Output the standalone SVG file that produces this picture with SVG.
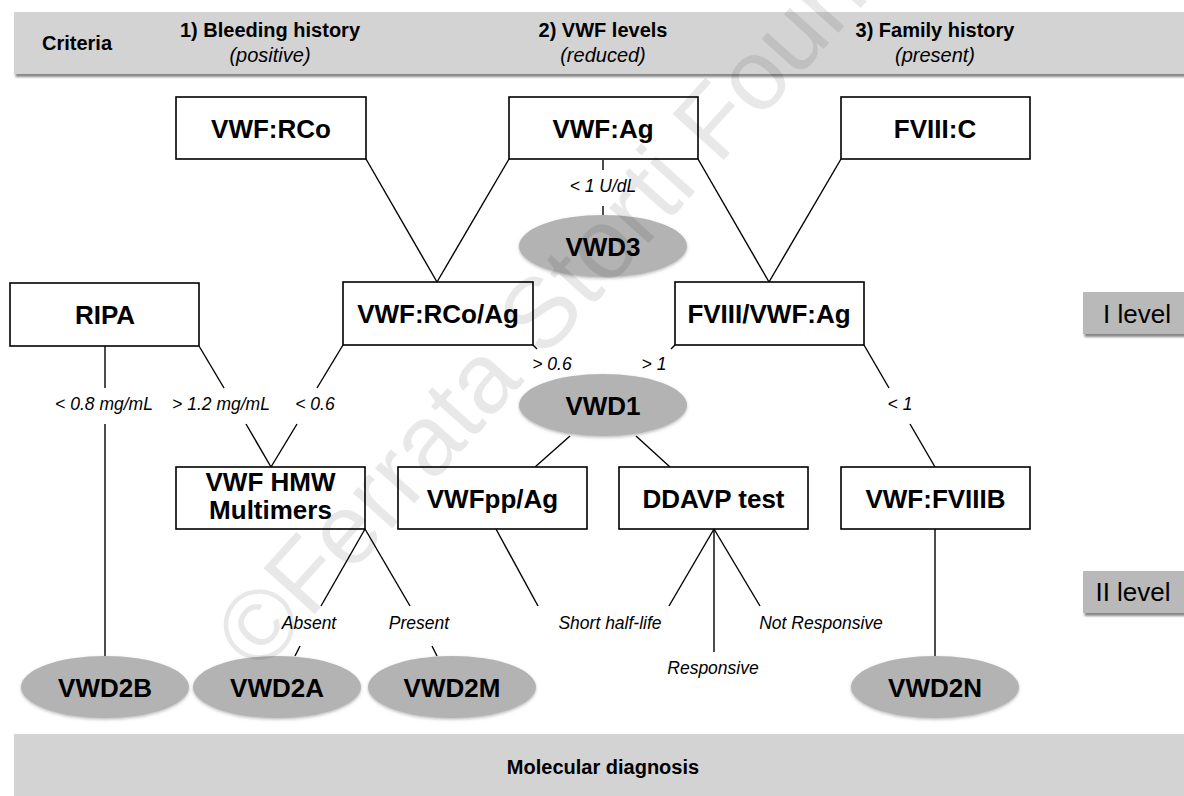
<svg xmlns="http://www.w3.org/2000/svg" width="1184" height="796" viewBox="0 0 1184 796">
<defs>
<filter id="sh" x="-10%" y="-20%" width="130%" height="160%">
<feDropShadow dx="1.5" dy="3" stdDeviation="1.2" flood-color="#555" flood-opacity="0.7"/>
</filter>
<filter id="esh" x="-10%" y="-20%" width="130%" height="160%">
<feDropShadow dx="0" dy="1.5" stdDeviation="1.5" flood-color="#777" flood-opacity="0.5"/>
</filter>
</defs>
<style>
.box{fill:#fff;stroke:#000;stroke-width:1.6}
.ell{fill:#b3b3b3;filter:url(#esh)}
.bt{font-family:"Liberation Sans",Arial,sans-serif;font-weight:bold;font-size:26px;text-anchor:middle;fill:#000}
.lb{font-family:"Liberation Sans",Arial,sans-serif;font-style:italic;font-size:17.5px;text-anchor:middle;fill:#000}
.hd{font-family:"Liberation Sans",Arial,sans-serif;font-weight:bold;font-size:20px;text-anchor:middle;fill:#000}
.hi{font-family:"Liberation Sans",Arial,sans-serif;font-style:italic;font-size:20px;text-anchor:middle;fill:#000}
.lv{font-family:"Liberation Sans",Arial,sans-serif;font-size:26px;text-anchor:middle;fill:#000}
.cn line{stroke:#000;stroke-width:1.4}
</style>
<rect width="1184" height="796" fill="#fff"/>

<g id="criteria-bar">
<rect x="14" y="12" width="1180" height="62" fill="#d3d3d3" filter="url(#sh)"/>
<text class="hd" x="77" y="50">Criteria</text>
<text class="hd" x="270" y="37">1) Bleeding history</text>
<text class="hi" x="270" y="62">(positive)</text>
<text class="hd" x="603" y="37">2) VWF levels</text>
<text class="hi" x="603" y="62">(reduced)</text>
<text class="hd" x="935" y="37">3) Family history</text>
<text class="hi" x="935" y="62">(present)</text>
</g>

<g class="cn" id="connectors">
<line x1="366" y1="159" x2="437" y2="282"/>
<line x1="509" y1="159" x2="437" y2="282"/>
<line x1="698" y1="159" x2="769" y2="282"/>
<line x1="841" y1="159" x2="769" y2="282"/>
<line x1="603" y1="160" x2="603" y2="170"/>
<line x1="603" y1="206" x2="603" y2="215"/>
<line x1="105" y1="346" x2="105" y2="388"/>
<line x1="105" y1="424" x2="105" y2="657"/>
<line x1="199" y1="346" x2="224" y2="388"/>
<line x1="246" y1="424" x2="271" y2="467"/>
<line x1="343" y1="345" x2="317" y2="388"/>
<line x1="297" y1="424" x2="271" y2="467"/>
<line x1="533" y1="345" x2="537" y2="349"/>
<line x1="675" y1="345" x2="671" y2="349"/>
<line x1="864" y1="345" x2="889" y2="388"/>
<line x1="910" y1="424" x2="935" y2="467"/>
<line x1="570" y1="436" x2="535" y2="467"/>
<line x1="636" y1="436" x2="670" y2="467"/>
<line x1="365" y1="529" x2="321" y2="606"/>
<line x1="365" y1="529" x2="410" y2="606"/>
<line x1="300" y1="646" x2="295" y2="656"/>
<line x1="432" y1="646" x2="437" y2="656"/>
<line x1="496" y1="529" x2="538" y2="606"/>
<line x1="714" y1="529" x2="669" y2="606"/>
<line x1="714" y1="529" x2="760" y2="606"/>
<line x1="714" y1="529" x2="714" y2="652"/>
<line x1="935" y1="529" x2="935" y2="656"/>
</g>

<g id="labels">
<text class="lb" x="603" y="192">&lt; 1 U/dL</text>
<text class="lb" x="104" y="410">&lt; 0.8 mg/mL</text>
<text class="lb" x="221" y="410">&gt; 1.2 mg/mL</text>
<text class="lb" x="315" y="410">&lt; 0.6</text>
<text class="lb" x="552" y="370">&gt; 0.6</text>
<text class="lb" x="654" y="370">&gt; 1</text>
<text class="lb" x="900" y="410">&lt; 1</text>
<text class="lb" x="309" y="629">Absent</text>
<text class="lb" x="419" y="629">Present</text>
<text class="lb" x="610" y="629">Short half-life</text>
<text class="lb" x="821" y="629">Not Responsive</text>
<text class="lb" x="713" y="674">Responsive</text>
</g>

<g id="n-vwfrco"><rect class="box" x="176" y="97" width="190" height="62"/><text class="bt" x="271" y="138">VWF:RCo</text></g>
<g id="n-vwfag"><rect class="box" x="509" y="97" width="189" height="62"/><text class="bt" x="603" y="138">VWF:Ag</text></g>
<g id="n-fviiic"><rect class="box" x="841" y="97" width="189" height="62"/><text class="bt" x="935" y="138">FVIII:C</text></g>
<g id="n-vwd3"><ellipse class="ell" cx="603" cy="246" rx="84" ry="31"/><text class="bt" x="603" y="256">VWD3</text></g>
<g id="n-ripa"><rect class="box" x="10" y="283" width="189" height="63"/><text class="bt" x="105" y="324">RIPA</text></g>
<g id="n-rcoag"><rect class="box" x="343" y="282" width="190" height="63"/><text class="bt" x="438" y="323">VWF:RCo/Ag</text></g>
<g id="n-fviiiag"><rect class="box" x="675" y="282" width="189" height="63"/><text class="bt" x="769" y="323">FVIII/VWF:Ag</text></g>
<g id="n-vwd1"><ellipse class="ell" cx="603" cy="405" rx="84" ry="31"/><text class="bt" x="603" y="415">VWD1</text></g>
<g id="n-hmw"><rect class="box" x="176" y="467" width="189" height="62"/><text class="bt" x="270.500" y="491" font-size="25">VWF HMW</text><text class="bt" x="270.500" y="519" font-size="25">Multimers</text></g>
<g id="n-vwfpp"><rect class="box" x="398" y="467" width="189" height="62"/><text class="bt" x="492.500" y="508">VWFpp/Ag</text></g>
<g id="n-ddavp"><rect class="box" x="619" y="467" width="189" height="62"/><text class="bt" x="713.500" y="508">DDAVP test</text></g>
<g id="n-fviiib"><rect class="box" x="841" y="467" width="189" height="62"/><text class="bt" x="935.500" y="508">VWF:FVIIIB</text></g>
<g id="n-vwd2b"><ellipse class="ell" cx="105" cy="687" rx="84" ry="31"/><text class="bt" x="105" y="697">VWD2B</text></g>
<g id="n-vwd2a"><ellipse class="ell" cx="277" cy="687" rx="84" ry="31"/><text class="bt" x="277" y="697">VWD2A</text></g>
<g id="n-vwd2m"><ellipse class="ell" cx="452" cy="687" rx="84" ry="31"/><text class="bt" x="452" y="697">VWD2M</text></g>
<g id="n-vwd2n"><ellipse class="ell" cx="935" cy="687" rx="84" ry="31"/><text class="bt" x="935" y="697">VWD2N</text></g>

<g id="level-1"><rect x="1083" y="292" width="110" height="42" fill="#b9b9b9" filter="url(#sh)"/><text class="lv" x="1137" y="323">I level</text></g>
<g id="level-2"><rect x="1083" y="571" width="110" height="42" fill="#b9b9b9" filter="url(#sh)"/><text class="lv" x="1133" y="601">II level</text></g>

<g id="molecular-bar">
<rect x="14" y="734" width="1180" height="70" fill="#d3d3d3"/>
<text class="hd" x="603" y="774" font-size="19">Molecular diagnosis</text>
</g>

<g id="watermark">
<text x="260" y="675" transform="rotate(-48 260 675)" font-family="'Liberation Sans',Arial,sans-serif" font-size="100" fill="#000" fill-opacity="0.09">©Ferrata Storti Foundation</text>
</g>
</svg>
